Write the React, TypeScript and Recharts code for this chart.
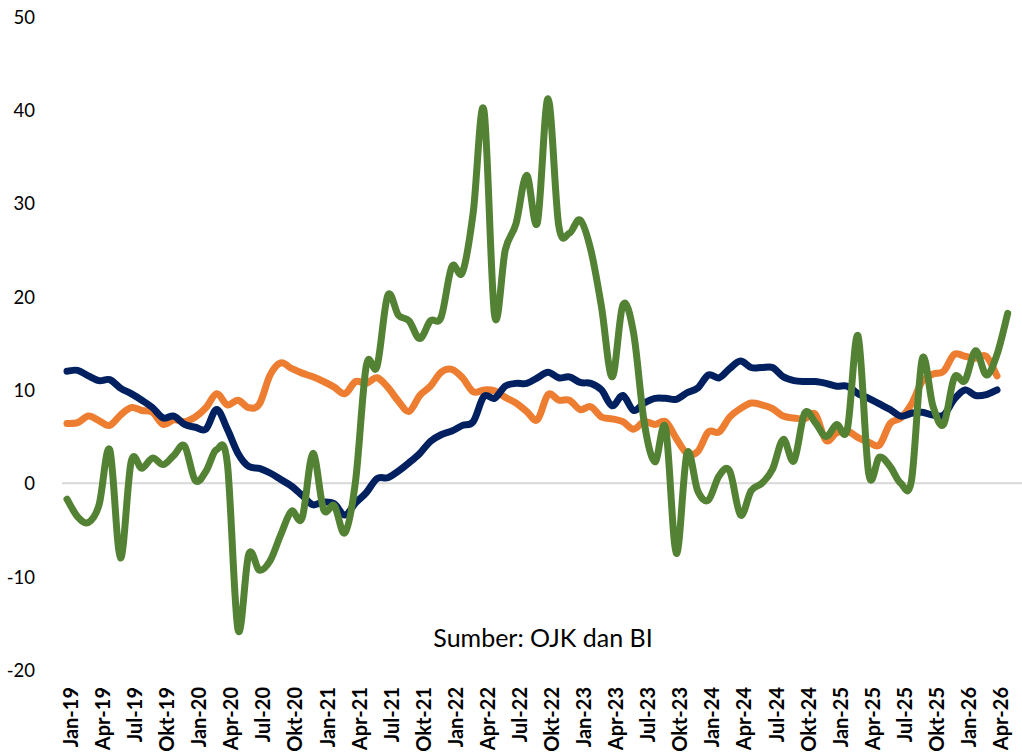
import React from 'react';
import { LineChart, Line, XAxis, YAxis, ReferenceLine } from 'recharts';

const MONTH_NAMES = ['Jan', 'Feb', 'Mar', 'Apr', 'Mei', 'Jun', 'Jul', 'Agu', 'Sep', 'Okt', 'Nov', 'Des'];
const YEARS = ['19', '20', '21', '22', '23', '24', '25', '26'];
const Y_TICKS = [-20, -10, 0, 10, 20, 30, 40, 50];

const NAVY = [12.0, 12.1, 11.5, 11.0, 11.1, 10.2, 9.6, 8.9, 8.1, 7.0,
  7.2, 6.3, 6.0, 5.8, 7.9, 5.8, 3.2, 1.8, 1.6, 1.1,
  0.4, -0.3, -1.3, -2.3, -2.0, -2.2, -3.4, -2.1, -1.0, 0.5,
  0.6, 1.3, 2.2, 3.2, 4.5, 5.2, 5.6, 6.2, 6.6, 9.3,
  9.1, 10.4, 10.7, 10.7, 11.3, 11.9, 11.3, 11.4, 10.8, 10.7,
  10.0, 8.3, 9.4, 7.8, 8.6, 9.1, 9.1, 9.0, 9.7, 10.2,
  11.6, 11.3, 12.3, 13.1, 12.4, 12.4, 12.4, 11.4, 11.0, 10.9,
  10.9, 10.7, 10.4, 10.4, 9.6, 9.1, 8.5, 7.9, 7.2, 7.5,
  7.6, 7.3, 7.3, 9.0, 10.0, 9.4, 9.5, 10.0];

const ORANGE = [6.4, 6.5, 7.2, 6.7, 6.2, 7.3, 8.1, 7.8, 7.6, 6.3,
  6.8, 6.6, 7.1, 8.1, 9.6, 8.4, 8.9, 8.1, 8.5, 11.6,
  12.9, 12.3, 11.8, 11.4, 10.9, 10.3, 9.6, 10.9, 10.7, 11.3,
  10.3, 8.8, 7.7, 9.4, 10.4, 11.9, 12.2, 11.3, 9.8, 10.0,
  9.9, 9.2, 8.6, 7.7, 6.8, 9.5, 8.9, 8.9, 7.9, 8.2,
  7.1, 6.9, 6.6, 5.8, 6.6, 6.3, 6.6, 4.8, 3.2, 3.4,
  5.5, 5.5, 7.1, 8.0, 8.6, 8.4, 8.0, 7.2, 7.0, 6.9,
  7.4, 4.6, 5.4, 5.6, 4.9, 4.4, 4.1, 6.4, 7.0, 8.5,
  10.9, 11.7, 12.0, 13.8, 13.6, 13.4, 13.6, 11.5];

const GREEN = [-1.7, -3.6, -4.2, -2.3, 3.6, -8.0, 2.3, 1.6, 2.7, 2.0,
  3.0, 4.0, 0.3, 1.3, 3.6, 2.1, -15.7, -7.6, -9.3, -8.3,
  -5.5, -3.0, -3.7, 3.2, -2.8, -2.4, -5.3, 0.3, 12.6, 12.5,
  20.1, 18.0, 17.4, 15.5, 17.4, 17.8, 23.2, 22.6, 29.0, 40.0,
  18.0, 25.0, 27.8, 33.0, 27.9, 41.2, 27.6, 26.8, 28.2, 25.0,
  18.9, 11.4, 19.1, 16.1, 6.5, 2.3, 5.9, -7.5, 3.2, -0.8,
  -1.8, 0.8, 1.3, -3.4, -0.8, 0.0, 1.5, 4.7, 2.4, 7.5,
  6.5, 5.0, 6.3, 5.8, 15.8, 1.0, 2.8, 1.8, 0.0, 0.3,
  13.3, 8.3, 6.3, 11.3, 11.0, 14.2, 11.6, 13.8, 18.2];

const SOURCE_TEXT = 'Sumber: OJK dan BI';

const CATEGORIES: string[] = [];
YEARS.forEach((yr) => MONTH_NAMES.forEach((mn) => CATEGORIES.push(`${mn}-${yr}`)));

const data = GREEN.map((g, i) => ({
  m: CATEGORIES[i],
  navy: i < NAVY.length ? NAVY[i] : null,
  orange: i < ORANGE.length ? ORANGE[i] : null,
  green: g,
}));

// Catmull-Rom smoothing similar to Excel's smoothed line
function smoothCurve(context: any) {
  let pts: number[][] = [];
  return {
    areaStart() {},
    areaEnd() {},
    lineStart() { pts = []; },
    lineEnd() {
      const n = pts.length;
      if (!n) return;
      context.moveTo(pts[0][0], pts[0][1]);
      if (n === 1) { context.lineTo(pts[0][0], pts[0][1]); return; }
      for (let i = 0; i < n - 1; i++) {
        const p0 = pts[i - 1] || pts[i];
        const p1 = pts[i];
        const p2 = pts[i + 1];
        const p3 = pts[i + 2] || p2;
        context.bezierCurveTo(
          p1[0] + (p2[0] - p0[0]) / 6, p1[1] + (p2[1] - p0[1]) / 6,
          p2[0] - (p3[0] - p1[0]) / 6, p2[1] - (p3[1] - p1[1]) / 6,
          p2[0], p2[1]
        );
      }
    },
    point(x: number, y: number) { pts.push([+x, +y]); },
  };
}

const FONT = 'Lato, "Open Sans", sans-serif';

const XTick = (props: any) => {
  const { x, payload } = props;
  return (
    <text
      transform={`translate(${x + 3},687) rotate(-90)`}
      textAnchor="end"
      dominantBaseline="central"
      fontFamily={FONT}
      fontWeight={700}
      fontSize={20}
      fill="#000"
    >
      {payload.value}
    </text>
  );
};

const YTick = (props: any) => {
  const { y, payload } = props;
  return (
    <text x={35} y={y} textAnchor="end" dominantBaseline="central" fontFamily={FONT} fontSize={18.5} fill="#000">
      {payload.value}
    </text>
  );
};

export default function App() {
  return (
    <div style={{ position: 'absolute', left: 0, top: 0, width: 1022, height: 752, background: '#fff' }}>
      <LineChart width={1022} height={752} data={data} margin={{ top: 16.5, right: 0, left: 0, bottom: 0 }}>
        <XAxis
          dataKey="m"
          interval={2}
          tickLine={false}
          axisLine={false}
          height={82}
          padding={{ left: 5, right: 14.3 }}
          tick={<XTick />}
        />
        <YAxis
          domain={[-20, 50]}
          ticks={Y_TICKS}
          type="number"
          width={62}
          axisLine={false}
          tickLine={false}
          tick={<YTick />}
        />
        <ReferenceLine y={0} stroke="#d9d9d9" strokeWidth={2} />
        <Line dataKey="orange" type={smoothCurve as any} stroke="#ED7D31" strokeWidth={7} dot={false} activeDot={false} strokeLinecap="round" strokeLinejoin="round" isAnimationActive={false} />
        <Line dataKey="navy" type={smoothCurve as any} stroke="#002060" strokeWidth={7} dot={false} activeDot={false} strokeLinecap="round" strokeLinejoin="round" isAnimationActive={false} />
        <Line dataKey="green" type={smoothCurve as any} stroke="#548235" strokeWidth={7} dot={false} activeDot={false} strokeLinecap="round" strokeLinejoin="round" isAnimationActive={false} />
      </LineChart>
      <svg width={1022} height={752} style={{ position: 'absolute', left: 0, top: 0, pointerEvents: 'none' }}>
        <text x={543} y={647} textAnchor="middle" fontFamily={FONT} fontSize={25} fill="#000">{SOURCE_TEXT}</text>
      </svg>
    </div>
  );
}
